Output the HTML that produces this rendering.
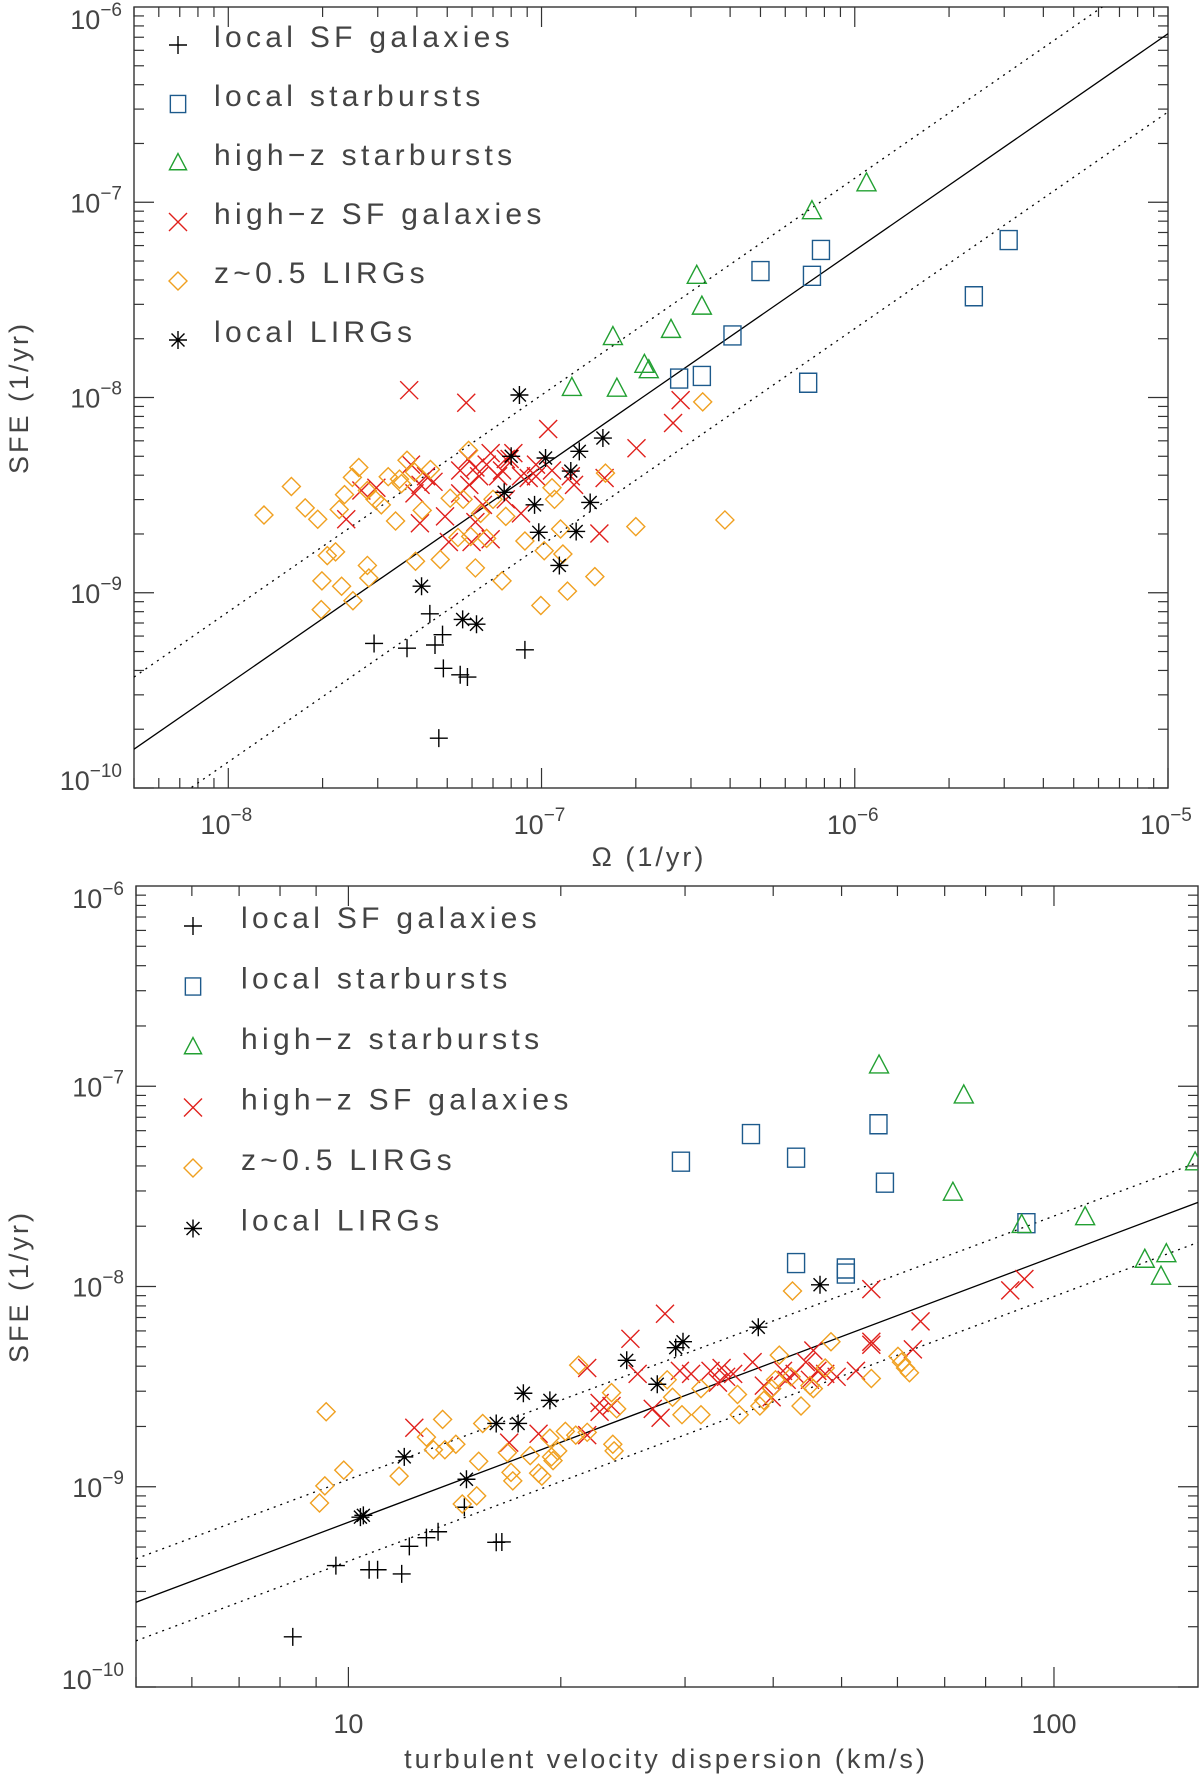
<!DOCTYPE html>
<html><head><meta charset="utf-8">
<style>
html,body{margin:0;padding:0;background:#fff;}
svg{display:block;font-family:"Liberation Sans",sans-serif;}
</style></head>
<body>
<svg id="fig" width="1200" height="1776" viewBox="0 0 1200 1776" xmlns="http://www.w3.org/2000/svg"></svg>
<script>
// ---------- TOP PANEL DATA (x = Omega [1/yr], y = SFE [1/yr]) ----------
const topLocalSF_x = [2.92e-8,3.72e-8,4.57e-8,4.4e-8,4.83e-8,4.86e-8,5.5e-8,5.8e-8,8.85e-8,4.7e-8];
const topLocalSF_y = [5.5e-10,5.2e-10,5.4e-10,7.8e-10,6.1e-10,4.1e-10,3.8e-10,3.7e-10,5.1e-10,1.8e-10];
const topLocalSB_x = [2.75e-7,3.25e-7,4.07e-7,5.0e-7,7.3e-7,7.8e-7,7.1e-7,2.4e-6,3.1e-6];
const topLocalSB_y = [1.25e-8,1.29e-8,2.08e-8,4.44e-8,4.2e-8,5.7e-8,1.19e-8,3.3e-8,6.4e-8];
const topHighzSB_x = [1.25e-7,1.74e-7,1.69e-7,2.13e-7,2.2e-7,2.59e-7,3.13e-7,3.25e-7,7.3e-7,1.09e-6];
const topHighzSB_y = [1.12e-8,1.11e-8,2.04e-8,1.47e-8,1.38e-8,2.22e-8,4.2e-8,2.92e-8,9.0e-8,1.25e-7];
const topHighzSF_x = [3.78e-8,5.75e-8,1.05e-7,2.01e-7,2.78e-7,2.63e-7,1.53e-7,1.59e-7,3.83e-8,4.28e-8,4.11e-8,4.52e-8,3.93e-8,4.09e-8,2.38e-8,2.66e-8,2.97e-8,4.92e-8,5.06e-8,5.5e-8,5.82e-8,6.15e-8,6.32e-8,6.68e-8,6.88e-8,7.27e-8,7.48e-8,7.91e-8,8.13e-8,8.6e-8,9.1e-8,9.6e-8,6.88e-8,6.15e-8,6.5e-8,5.88e-8,7.69e-8,8.6e-8,1.24e-7,1.27e-7,9.6e-8,1.08e-7,5.5e-8,7.69e-8,5.98e-8];
const topHighzSF_y = [1.09e-8,9.4e-9,6.9e-9,5.5e-9,9.7e-9,7.4e-9,2.01e-9,3.87e-9,4.53e-9,3.95e-9,3.57e-9,3.7e-9,3.23e-9,2.27e-9,2.38e-9,3.34e-9,3.45e-9,2.46e-9,1.82e-9,4.23e-9,4.84e-9,4.38e-9,3.95e-9,4.53e-9,5.19e-9,3.95e-9,4.23e-9,4.84e-9,5.19e-9,3.95e-9,3.87e-9,4.53e-9,1.88e-9,2.3e-9,2.82e-9,3.57e-9,3.01e-9,2.55e-9,3.95e-9,3.57e-9,3.95e-9,4.23e-9,3.23e-9,4.84e-9,1.82e-9];
const topLIRG05_x = [1.30e-8,1.59e-8,1.76e-8,1.93e-8,2.07e-8,2.20e-8,1.99e-8,2.30e-8,2.50e-8,1.98e-8,2.26e-8,2.35e-8,2.49e-8,2.61e-8,2.78e-8,2.94e-8,3.08e-8,3.24e-8,3.42e-8,3.72e-8,3.57e-8,3.93e-8,4.16e-8,4.42e-8,2.78e-8,2.81e-8,3.96e-8,4.75e-8,5.41e-8,5.85e-8,5.62e-8,5.94e-8,6.15e-8,6.68e-8,7.48e-8,7.0e-8,7.69e-8,8.85e-8,9.95e-8,1.02e-7,1.08e-7,1.10e-7,1.15e-7,1.17e-7,1.21e-7,1.48e-7,1.60e-7,2.0e-7,3.27e-7,3.85e-7,6.39e-8,3.52e-8,5.11e-8];
const topLIRG05_y = [2.5e-9,3.5e-9,2.72e-9,2.38e-9,1.55e-9,1.62e-9,1.15e-9,1.08e-9,9.1e-10,8.2e-10,2.67e-9,3.18e-9,3.9e-9,4.38e-9,3.34e-9,3.01e-9,2.82e-9,3.93e-9,2.33e-9,4.77e-9,3.62e-9,4.15e-9,2.64e-9,4.28e-9,1.38e-9,1.19e-9,1.45e-9,1.48e-9,1.92e-9,5.36e-9,3.01e-9,1.94e-9,1.34e-9,1.9e-9,1.15e-9,3.01e-9,2.46e-9,1.84e-9,8.6e-10,1.64e-9,3.45e-9,3.01e-9,2.12e-9,1.58e-9,1.02e-9,1.21e-9,4.1e-9,2.18e-9,9.5e-9,2.36e-9,2.55e-9,3.82e-9,3.05e-9];
const topLocalLIRG_x = [8.5e-8,8.0e-8,1.03e-7,1.24e-7,1.32e-7,1.57e-7,7.6e-8,9.5e-8,9.8e-8,1.29e-7,1.43e-7,1.14e-7,4.14e-8,5.6e-8,6.2e-8];
const topLocalLIRG_y = [1.03e-8,5.0e-9,4.9e-9,4.2e-9,5.3e-9,6.2e-9,3.27e-9,2.82e-9,2.04e-9,2.06e-9,2.9e-9,1.38e-9,1.08e-9,7.3e-10,6.9e-10];
const topFit_x = [5e-9, 1e-5];
const topFit_y = [1.58e-10, 7.3e-7];
const topUpper_y = [3.7e-10, 1.71e-6];
const topLower_y = [6.3e-11, 2.9e-7];
const topXTicks = [1e-8,1e-7,1e-6,1e-5];
const topXTickLabels = ["\u22128","\u22127","\u22126","\u22125"];

// ---------- BOTTOM PANEL DATA (x = velocity dispersion [km/s]) ----------
const botLocalSF_x = [8.34,9.6,10.7,11.9,12.2,12.9,13.4,14.6,16.2,11.0,16.5];
const botLocalSF_y = [1.78e-10,4.04e-10,3.85e-10,3.67e-10,5.04e-10,5.57e-10,5.96e-10,7.9e-10,5.28e-10,3.85e-10,5.3e-10];
const botLocalSB_x = [29.6,37.2,43.1,43.1,50.7,50.7,56.4,57.6,91.4];
const botLocalSB_y = [4.2e-8,5.77e-8,4.4e-8,1.31e-8,1.23e-8,1.16e-8,6.46e-8,3.3e-8,2.07e-8];
const botHighzSB_x = [56.5,74.5,71.9,90,110.7,134.5,144.3,141.8,158.5];
const botHighzSB_y = [1.27e-7,9.0e-8,2.94e-8,2.03e-8,2.22e-8,1.36e-8,1.45e-8,1.12e-8,4.17e-8];
const botHighzSF_x = [12.4,21.8,16.9,18.6,22.7,21.8,23.6,25.1,28.1,25.7,27.0,27.7,29.5,30.6,32.6,33.8,35.1,37.4,38.8,39.8,41.3,42.9,44.5,45.6,46.2,47.4,49.2,52.4,55.1,55.1,63.1,64.7,86.7,90.8,22.7,34.3,41.8,45.1,33.4,55.1];
const botHighzSF_y = [1.97e-9,3.92e-9,1.66e-9,1.84e-9,2.62e-9,1.81e-9,2.53e-9,5.48e-9,7.31e-9,3.66e-9,2.45e-9,2.21e-9,3.79e-9,3.66e-9,3.79e-9,3.92e-9,3.66e-9,4.19e-9,3.2e-9,2.8e-9,3.79e-9,3.66e-9,4.19e-9,4.79e-9,3.79e-9,3.66e-9,3.54e-9,3.79e-9,9.7e-9,5.12e-9,4.85e-9,6.7e-9,9.57e-9,1.09e-8,2.37e-9,3.54e-9,3.42e-9,3.42e-9,3.31e-9,5.3e-9];
const botLIRG05_x = [9.3,9.1,9.26,9.85,11.8,12.9,13.2,13.6,13.7,14.2,15.3,15.2,14.5,15.5,16.8,17.1,17.0,18.6,18.8,18.1,19.3,19.4,19.5,20.3,21.0,21.2,21.8,23.6,23.7,23.8,24.0,28.3,28.8,29.7,31.6,31.6,35.6,35.8,38.3,38.8,39.8,40.3,40.8,42.4,43.8,45.1,45.6,47.4,48.3,42.6,55.1,60.1,60.8,61.6,62.4,19.8];
const botLIRG05_y = [2.37e-9,8.3e-10,1.01e-9,1.21e-9,1.13e-9,1.77e-9,1.53e-9,2.17e-9,1.53e-9,1.63e-9,1.34e-9,9.0e-10,8.2e-10,2.07e-9,1.48e-9,1.07e-9,1.18e-9,1.17e-9,1.13e-9,1.43e-9,1.75e-9,1.41e-9,1.35e-9,1.89e-9,1.81e-9,4.05e-9,1.87e-9,2.95e-9,1.63e-9,1.51e-9,2.45e-9,3.42e-9,2.8e-9,2.29e-9,3.09e-9,2.29e-9,2.89e-9,2.29e-9,2.53e-9,2.7e-9,3.09e-9,3.42e-9,4.54e-9,3.54e-9,2.53e-9,3.2e-9,3.09e-9,3.92e-9,5.3e-9,9.5e-9,3.47e-9,4.48e-9,4.19e-9,3.92e-9,3.71e-9,1.51e-9];
const botLocalLIRG_x = [10.4,12.0,14.7,16.2,17.4,17.7,19.3,24.8,27.4,29.1,29.8,38.1,46.6,10.5];
const botLocalLIRG_y = [7.05e-10,1.41e-9,1.09e-9,2.07e-9,2.07e-9,2.93e-9,2.7e-9,4.28e-9,3.25e-9,4.95e-9,5.3e-9,6.26e-9,1.02e-8,7.2e-10];
const botFit_x = [5, 160];
const botFit_y = [2.65e-10, 2.63e-8];
const botUpper_y = [4.37e-10, 4.17e-8];
const botLower_y = [1.70e-10, 1.66e-8];
const botXTicks = [10,100];
const botXTickLabels = ["10","100"];

const yTicks = [1e-10,1e-9,1e-8,1e-7,1e-6];
const yTickLabels = ["\u221210","\u22129","\u22128","\u22127","\u22126"];
const legendNames = ["local SF galaxies","local starbursts","high\u2212z starbursts","high\u2212z SF galaxies","z~0.5 LIRGs","local LIRGs"];

const NS = "http://www.w3.org/2000/svg";
const svg = document.getElementById('fig');
const COL = {plus:"#000", square:"#1d5a8c", tri:"#22a032", x:"#e0201c", diamond:"#f0a020", star:"#000"};

function mk(tag, attrs, parent){
  const e = document.createElementNS(NS, tag);
  for (const k in attrs) e.setAttribute(k, attrs[k]);
  (parent||svg).appendChild(e);
  return e;
}

function drawSymbol(g, type, cx, cy, s){
  const c = COL[type];
  let d = "";
  if (type==="plus") d = `M${cx-s} ${cy}H${cx+s}M${cx} ${cy-s}V${cy+s}`;
  else if (type==="square") d = `M${cx-s*0.85} ${cy-s*0.95}H${cx+s*0.85}V${cy+s*0.95}H${cx-s*0.85}Z`;
  else if (type==="tri") d = `M${cx} ${cy-s*1.05}L${cx+s*0.95} ${cy+s*0.75}L${cx-s*0.95} ${cy+s*0.75}Z`;
  else if (type==="x") d = `M${cx-s} ${cy-s}L${cx+s} ${cy+s}M${cx-s} ${cy+s}L${cx+s} ${cy-s}`;
  else if (type==="diamond") d = `M${cx} ${cy-s}L${cx+s} ${cy}L${cx} ${cy+s}L${cx-s} ${cy}Z`;
  else if (type==="star") { const a=s*0.72; d = `M${cx-s} ${cy}H${cx+s}M${cx} ${cy-s}V${cy+s}M${cx-a} ${cy-a}L${cx+a} ${cy+a}M${cx-a} ${cy+a}L${cx+a} ${cy-a}`; }
  const p = mk('path', {d:d, fill:"none", stroke:c, 'stroke-width': 1.4}, g);
  return p;
}

function supLabel(parent, x, y, base, exp, anchor, name){
  const t = mk('text', {x:x, y:y, 'font-size':27, fill:"#444", 'text-anchor':anchor}, parent);
  
  
  const b = document.createElementNS(NS,'tspan'); b.textContent = base; t.appendChild(b);
  if (exp!==null){
    const e = document.createElementNS(NS,'tspan'); e.setAttribute('dy', -13); e.setAttribute('font-size', 19); e.textContent = exp; t.appendChild(e);
  }
  return t;
}

function panel(cfg){
  const g = mk('g', {});
  
  
  const L=cfg.L,R=cfg.R,T=cfg.T,B=cfg.B;
  const lx0=Math.log10(cfg.xmin), lx1=Math.log10(cfg.xmax);
  const ly0=-10, ly1=-6;
  const X = v => L + (Math.log10(v)-lx0)/(lx1-lx0)*(R-L);
  const Y = v => B - (Math.log10(v)-ly0)/(ly1-ly0)*(B-T);

  const clipId = cfg.name+"-clip";
  const cp = mk('clipPath', {id:clipId}, g);
  mk('rect', {x:L, y:T, width:R-L, height:B-T}, cp);

  const tk = mk('g', {stroke:"#333", 'stroke-width':1.2}, g);
  
  
  for (let dec=-10; dec<-6; dec++){
    for (let m=1; m<10; m++){
      const v = m*Math.pow(10,dec); const y=Y(v); const len = m===1?20:10;
      if (y<T-0.5||y>B+0.5) continue;
      mk('line',{x1:L,y1:y,x2:L+len,y2:y},tk);
      mk('line',{x1:R,y1:y,x2:R-len,y2:y},tk);
    }
  }
  for (let dec=Math.floor(lx0); dec<=Math.ceil(lx1); dec++){
    for (let m=1; m<10; m++){
      const v = m*Math.pow(10,dec); const lv=Math.log10(v);
      if (lv<lx0-1e-9||lv>lx1+1e-9) continue;
      const x=X(v); const len = m===1?20:10;
      mk('line',{x1:x,y1:B,x2:x,y2:B-len},tk);
      mk('line',{x1:x,y1:T,x2:x,y2:T+len},tk);
    }
  }
  const frame = mk('rect',{x:L,y:T,width:R-L,height:B-T,fill:"none",stroke:"#333",'stroke-width':1.4},g);
  
  

  yTicks.forEach((v,i)=>{
    let y = Y(v)+10;
    if (i===yTicks.length-1) y = T+22;
    if (i===0) y = B+2;
    supLabel(g, L-12, y, "10", yTickLabels[i], "end", 'y-tick-label');
  });
  cfg.xTicks.forEach((v,i)=>{
    if (cfg.xExp) supLabel(g, X(v)-2, B+46, "10", cfg.xLabels[i], "middle", 'x-tick-label');
    else supLabel(g, X(v), B+46, cfg.xLabels[i], null, "middle", 'x-tick-label');
  });
  const yt = mk('text',{x:0,y:0,'font-size':27,fill:"#444",'text-anchor':"middle",'letter-spacing':3,
    transform:`translate(${cfg.yTitleX},${(T+B)/2}) rotate(-90)`},g);
  
  
  yt.textContent = "SFE (1/yr)";
  const xt = mk('text',{x:cfg.xTitleX,y:cfg.xTitleY,'font-size':27,fill:"#444",'text-anchor':"middle",'letter-spacing':3},g);
  
  
  xt.textContent = cfg.xTitle;

  const lg = mk('g',{'clip-path':`url(#${clipId})`},g);
  const fit = mk('line',{x1:X(cfg.fitX[0]),y1:Y(cfg.fitY[0]),x2:X(cfg.fitX[1]),y2:Y(cfg.fitY[1]),stroke:"#000",'stroke-width':1.3},lg);
  
  
  const up = mk('line',{x1:X(cfg.fitX[0]),y1:Y(cfg.upY[0]),x2:X(cfg.fitX[1]),y2:Y(cfg.upY[1]),stroke:"#000",'stroke-width':1.3,'stroke-dasharray':"2 5"},lg);
  
  
  const lo = mk('line',{x1:X(cfg.fitX[0]),y1:Y(cfg.loY[0]),x2:X(cfg.fitX[1]),y2:Y(cfg.loY[1]),stroke:"#000",'stroke-width':1.3,'stroke-dasharray':"2 5"},lg);
  
  

  const pg = mk('g',{'clip-path':`url(#${clipId})`},g);
  cfg.series.forEach(s=>{
    const sg = mk('g',{},pg);
    
    
    for (let i=0;i<s.xs.length;i++){
      const p = drawSymbol(sg, s.type, X(s.xs[i]), Y(s.ys[i]), s.size);
      
      
    }
  });

  const leg = mk('g',{},g);
  
  
  const types = ["plus","square","tri","x","diamond","star"];
  legendNames.forEach((nm,i)=>{
    const y = cfg.legY0 + i*cfg.legDY;
    const eg = mk('g',{},leg);
    
    
    drawSymbol(eg, types[i], cfg.legSymX, y, 9);
    const t = mk('text',{x:cfg.legTextX,y:y+2,'font-size':30,fill:"#444",'letter-spacing':4.3},eg);
    
    
    t.textContent = nm;
  });
}

panel({name:"omega-panel", L:134, R:1168, T:7, B:788, xmin:5e-9, xmax:1e-5,
  xTicks:topXTicks, xLabels:topXTickLabels, xExp:true,
  xTitle:"\u03A9 (1/yr)", xTitleX:649, xTitleY:866, yTitleX:28,
  fitX:topFit_x, fitY:topFit_y, upY:topUpper_y, loY:topLower_y,
  legY0:45, legDY:59, legSymX:178, legTextX:214,
  series:[
    {name:"local-sf-galaxies", type:"plus", xs:topLocalSF_x, ys:topLocalSF_y, size:9},
    {name:"local-starbursts", type:"square", xs:topLocalSB_x, ys:topLocalSB_y, size:10},
    {name:"high-z-starbursts", type:"tri", xs:topHighzSB_x, ys:topHighzSB_y, size:10},
    {name:"high-z-sf-galaxies", type:"x", xs:topHighzSF_x, ys:topHighzSF_y, size:9},
    {name:"z05-lirgs", type:"diamond", xs:topLIRG05_x, ys:topLIRG05_y, size:9},
    {name:"local-lirgs", type:"star", xs:topLocalLIRG_x, ys:topLocalLIRG_y, size:9}
  ]});

panel({name:"dispersion-panel", L:136, R:1198, T:886, B:1687, xmin:5, xmax:160,
  xTicks:botXTicks, xLabels:botXTickLabels, xExp:false,
  xTitle:"turbulent velocity dispersion (km/s)", xTitleX:666, xTitleY:1768, yTitleX:28,
  fitX:botFit_x, fitY:botFit_y, upY:botUpper_y, loY:botLower_y,
  legY0:926, legDY:60.5, legSymX:193, legTextX:241,
  series:[
    {name:"local-sf-galaxies", type:"plus", xs:botLocalSF_x, ys:botLocalSF_y, size:9},
    {name:"local-starbursts", type:"square", xs:botLocalSB_x, ys:botLocalSB_y, size:10},
    {name:"high-z-starbursts", type:"tri", xs:botHighzSB_x, ys:botHighzSB_y, size:10},
    {name:"high-z-sf-galaxies", type:"x", xs:botHighzSF_x, ys:botHighzSF_y, size:9},
    {name:"z05-lirgs", type:"diamond", xs:botLIRG05_x, ys:botLIRG05_y, size:9},
    {name:"local-lirgs", type:"star", xs:botLocalLIRG_x, ys:botLocalLIRG_y, size:9}
  ]});
</script>
</body></html>
